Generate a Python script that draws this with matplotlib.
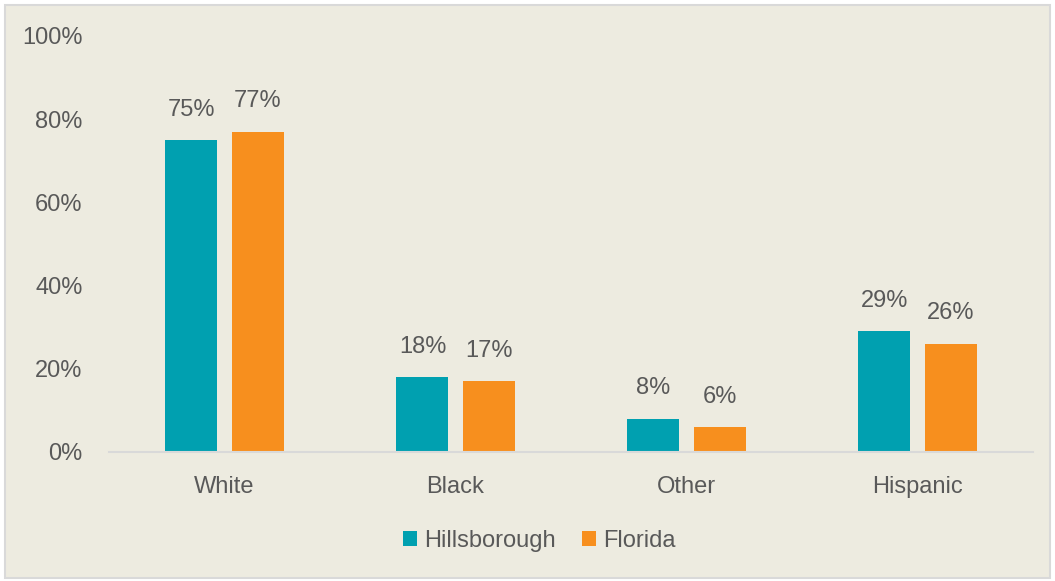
import numpy as np
import matplotlib.pyplot as plt
from matplotlib.patches import Rectangle

categories = ['White', 'Black', 'Other', 'Hispanic']
hillsborough = [75, 18, 8, 29]
florida = [77, 17, 6, 26]
series_names = ['Hillsborough', 'Florida']

teal = '#00A0B0'
orange = '#F78F1E'
bg = '#EDEBE0'
text_color = '#595959'

plt.rcParams['font.family'] = ['Liberation Sans', 'DejaVu Sans']

fig = plt.figure(figsize=(10.55, 5.81), dpi=100, facecolor='white')
fig.patches.append(Rectangle((5 / 1055, 3 / 581), 1045 / 1055, 573 / 581,
                             transform=fig.transFigure, facecolor=bg,
                             edgecolor='#D9D9D9', linewidth=1.5, zorder=-1))

ax = fig.add_axes([109 / 1055, 1 - 452 / 581, 924 / 1055, 416 / 581])
ax.set_facecolor('none')

x = np.arange(len(categories))
w = 0.225
off = 0.143
b1 = ax.bar(x - off, hillsborough, w, color=teal, label=series_names[0])
b2 = ax.bar(x + off, florida, w, color=orange, label=series_names[1])

for bars, vals in ((b1, hillsborough), (b2, florida)):
    for rect, v in zip(bars, vals):
        ax.annotate(f'{v}%', (rect.get_x() + rect.get_width() / 2, v),
                    xytext=(0, 14), textcoords='offset points',
                    ha='center', va='bottom', fontsize=17, color=text_color)

ax.set_xlim(-0.5, 3.5)
ax.set_ylim(0, 100)
ax.set_yticks(range(0, 101, 20))
ax.set_yticklabels([f'{t}%' for t in range(0, 101, 20)])
ax.set_xticks(x)
ax.set_xticklabels(categories)
ax.tick_params(axis='both', length=0, labelsize=17, colors=text_color)
ax.tick_params(axis='y', pad=19)
ax.tick_params(axis='x', pad=17)
for s in ['top', 'right', 'left']:
    ax.spines[s].set_visible(False)
ax.spines['bottom'].set_color('#D9D9D9')
ax.spines['bottom'].set_linewidth(1.5)

leg = fig.legend(loc='center', bbox_to_anchor=(539 / 1055, 1 - 541 / 581),
                 ncol=2, frameon=False, fontsize=17, handlelength=0.6,
                 handleheight=0.6, handletextpad=0.3, columnspacing=1.1)
for t in leg.get_texts():
    t.set_color(text_color)

fig.savefig('out.png', dpi=100, facecolor='white')
